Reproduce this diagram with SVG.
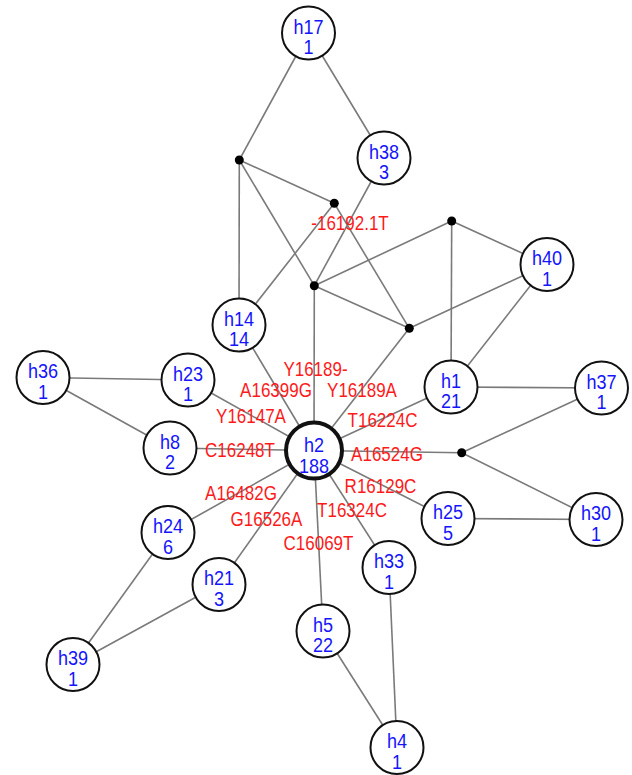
<svg xmlns="http://www.w3.org/2000/svg" width="632" height="775" viewBox="0 0 632 775">
  <style>
    .edge { stroke: #7a7a7a; stroke-width: 1.6; fill: none; }
    .dot { fill: #000; }
    .node circle { fill: #fff; stroke: #111; stroke-width: 2; }
    .node.main circle { stroke-width: 4; }
    .nt { font-family: "Liberation Sans", Arial, sans-serif; font-size: 20.5px; fill: #1414ff; text-anchor: middle; transform: scaleX(0.88); }
    .lab { font-family: "Liberation Sans", Arial, sans-serif; font-size: 20px; fill: #ff1a1a; text-anchor: middle; transform: scaleX(0.85); }
  </style>
  <rect width="632" height="775" fill="#fff"/>

  <!-- connectors -->
  <g id="connectors">
    <line class="edge" x1="308.5" y1="33" x2="239.3" y2="160"/>
    <line class="edge" x1="308.5" y1="33" x2="384" y2="158"/>
    <line class="edge" x1="384" y1="158" x2="314.3" y2="285.7"/>
    <line class="edge" x1="239.3" y1="160" x2="334.3" y2="203.3"/>
    <line class="edge" x1="239.3" y1="160" x2="239" y2="325"/>
    <line class="edge" x1="239.3" y1="160" x2="314.3" y2="285.7"/>
    <line class="edge" x1="334.3" y1="203.3" x2="239" y2="325"/>
    <line class="edge" x1="334.3" y1="203.3" x2="409.3" y2="328.3"/>
    <line class="edge" x1="314.3" y1="285.7" x2="451.7" y2="221"/>
    <line class="edge" x1="314.3" y1="285.7" x2="409.3" y2="328.3"/>
    <line class="edge" x1="314.3" y1="285.7" x2="314" y2="450.5"/>
    <line class="edge" x1="451.7" y1="221" x2="451" y2="387"/>
    <line class="edge" x1="451.7" y1="221" x2="547" y2="264.5"/>
    <line class="edge" x1="409.3" y1="328.3" x2="547" y2="264.5"/>
    <line class="edge" x1="409.3" y1="328.3" x2="314" y2="450.5"/>
    <line class="edge" x1="547" y1="264.5" x2="451" y2="387"/>
    <line class="edge" x1="239" y1="325" x2="314" y2="450.5"/>
    <line class="edge" x1="188" y1="380" x2="314" y2="450.5"/>
    <line class="edge" x1="43" y1="377.5" x2="188" y2="380"/>
    <line class="edge" x1="43" y1="377.5" x2="170" y2="448"/>
    <line class="edge" x1="170" y1="448" x2="314" y2="450.5"/>
    <line class="edge" x1="451" y1="387" x2="314" y2="450.5"/>
    <line class="edge" x1="451" y1="387" x2="601.5" y2="388"/>
    <line class="edge" x1="601.5" y1="388" x2="461.7" y2="452.7"/>
    <line class="edge" x1="461.7" y1="452.7" x2="314" y2="450.5"/>
    <line class="edge" x1="461.7" y1="452.7" x2="596" y2="519.5"/>
    <line class="edge" x1="448" y1="518.5" x2="314" y2="450.5"/>
    <line class="edge" x1="448" y1="518.5" x2="596" y2="519.5"/>
    <line class="edge" x1="389" y1="567.5" x2="314" y2="450.5"/>
    <line class="edge" x1="389" y1="567.5" x2="397" y2="747.5"/>
    <line class="edge" x1="323" y1="631" x2="314" y2="450.5"/>
    <line class="edge" x1="323" y1="631" x2="397" y2="747.5"/>
    <line class="edge" x1="219" y1="584.5" x2="314" y2="450.5"/>
    <line class="edge" x1="168" y1="532.5" x2="314" y2="450.5"/>
    <line class="edge" x1="168" y1="532.5" x2="73" y2="664.5"/>
    <line class="edge" x1="219" y1="584.5" x2="73" y2="664.5"/>
  </g>

  <!-- median vectors -->
  <g id="median-vectors">
    <circle class="dot" cx="239.3" cy="160" r="4.5"/>
    <circle class="dot" cx="334.3" cy="203.3" r="4.5"/>
    <circle class="dot" cx="451.7" cy="221" r="4.5"/>
    <circle class="dot" cx="314.3" cy="285.7" r="4.5"/>
    <circle class="dot" cx="409.3" cy="328.3" r="4.5"/>
    <circle class="dot" cx="461.7" cy="452.7" r="4.5"/>
  </g>

  <!-- haplotype nodes -->
  <g id="h17" class="node" transform="translate(308.5,33)"><circle r="26.5"/><text class="nt"><tspan x="0" y="0.5">h17</tspan><tspan x="0" y="21.5">1</tspan></text></g>
  <g id="h38" class="node" transform="translate(384,158)"><circle r="26.5"/><text class="nt"><tspan x="0" y="0.5">h38</tspan><tspan x="0" y="21.5">3</tspan></text></g>
  <g id="h14" class="node" transform="translate(239,325)"><circle r="26.5"/><text class="nt"><tspan x="0" y="0.5">h14</tspan><tspan x="0" y="21.5">14</tspan></text></g>
  <g id="h40" class="node" transform="translate(547,264.5)"><circle r="26.5"/><text class="nt"><tspan x="0" y="0.5">h40</tspan><tspan x="0" y="21.5">1</tspan></text></g>
  <g id="h36" class="node" transform="translate(43,377.5)"><circle r="26.5"/><text class="nt"><tspan x="0" y="0.5">h36</tspan><tspan x="0" y="21.5">1</tspan></text></g>
  <g id="h23" class="node" transform="translate(188,380)"><circle r="26.5"/><text class="nt"><tspan x="0" y="0.5">h23</tspan><tspan x="0" y="21.5">1</tspan></text></g>
  <g id="h1" class="node" transform="translate(451,387)"><circle r="26.5"/><text class="nt"><tspan x="0" y="0.5">h1</tspan><tspan x="0" y="21.5">21</tspan></text></g>
  <g id="h37" class="node" transform="translate(601.5,388)"><circle r="26.5"/><text class="nt"><tspan x="0" y="0.5">h37</tspan><tspan x="0" y="21.5">1</tspan></text></g>
  <g id="h8" class="node" transform="translate(170,448)"><circle r="26.5"/><text class="nt"><tspan x="0" y="0.5">h8</tspan><tspan x="0" y="21.5">2</tspan></text></g>
  <g id="h2" class="node main" transform="translate(314,450.5)"><circle r="28"/><text class="nt"><tspan x="0" y="1.5">h2</tspan><tspan x="0" y="22.5">188</tspan></text></g>
  <g id="h25" class="node" transform="translate(448,518.5)"><circle r="26.5"/><text class="nt"><tspan x="0" y="0.5">h25</tspan><tspan x="0" y="21.5">5</tspan></text></g>
  <g id="h30" class="node" transform="translate(596,519.5)"><circle r="26.5"/><text class="nt"><tspan x="0" y="0.5">h30</tspan><tspan x="0" y="21.5">1</tspan></text></g>
  <g id="h24" class="node" transform="translate(168,532.5)"><circle r="26.5"/><text class="nt"><tspan x="0" y="0.5">h24</tspan><tspan x="0" y="21.5">6</tspan></text></g>
  <g id="h21" class="node" transform="translate(219,584.5)"><circle r="26.5"/><text class="nt"><tspan x="0" y="0.5">h21</tspan><tspan x="0" y="21.5">3</tspan></text></g>
  <g id="h33" class="node" transform="translate(389,567.5)"><circle r="26.5"/><text class="nt"><tspan x="0" y="0.5">h33</tspan><tspan x="0" y="21.5">1</tspan></text></g>
  <g id="h5" class="node" transform="translate(323,631)"><circle r="26.5"/><text class="nt"><tspan x="0" y="0.5">h5</tspan><tspan x="0" y="21.5">22</tspan></text></g>
  <g id="h39" class="node" transform="translate(73,664.5)"><circle r="26.5"/><text class="nt"><tspan x="0" y="0.5">h39</tspan><tspan x="0" y="21.5">1</tspan></text></g>
  <g id="h4" class="node" transform="translate(397,747.5)"><circle r="26.5"/><text class="nt"><tspan x="0" y="0.5">h4</tspan><tspan x="0" y="21.5">1</tspan></text></g>

  <!-- mutation labels -->
  <g id="mutations">
    <g transform="translate(350,230)"><text class="lab">-16192.1T</text></g>
    <g transform="translate(315.5,376)"><text class="lab">Y16189-</text></g>
    <g transform="translate(276,397)"><text class="lab">A16399G</text></g>
    <g transform="translate(362,397)"><text class="lab">Y16189A</text></g>
    <g transform="translate(251,423)"><text class="lab">Y16147A</text></g>
    <g transform="translate(382.5,427)"><text class="lab">T16224C</text></g>
    <g transform="translate(240,457)"><text class="lab">C16248T</text></g>
    <g transform="translate(387,461)"><text class="lab">A16524G</text></g>
    <g transform="translate(380.5,493)"><text class="lab">R16129C</text></g>
    <g transform="translate(241,500)"><text class="lab">A16482G</text></g>
    <g transform="translate(352,517)"><text class="lab">T16324C</text></g>
    <g transform="translate(266.5,525.5)"><text class="lab">G16526A</text></g>
    <g transform="translate(318.5,550)"><text class="lab">C16069T</text></g>
  </g>
</svg>
